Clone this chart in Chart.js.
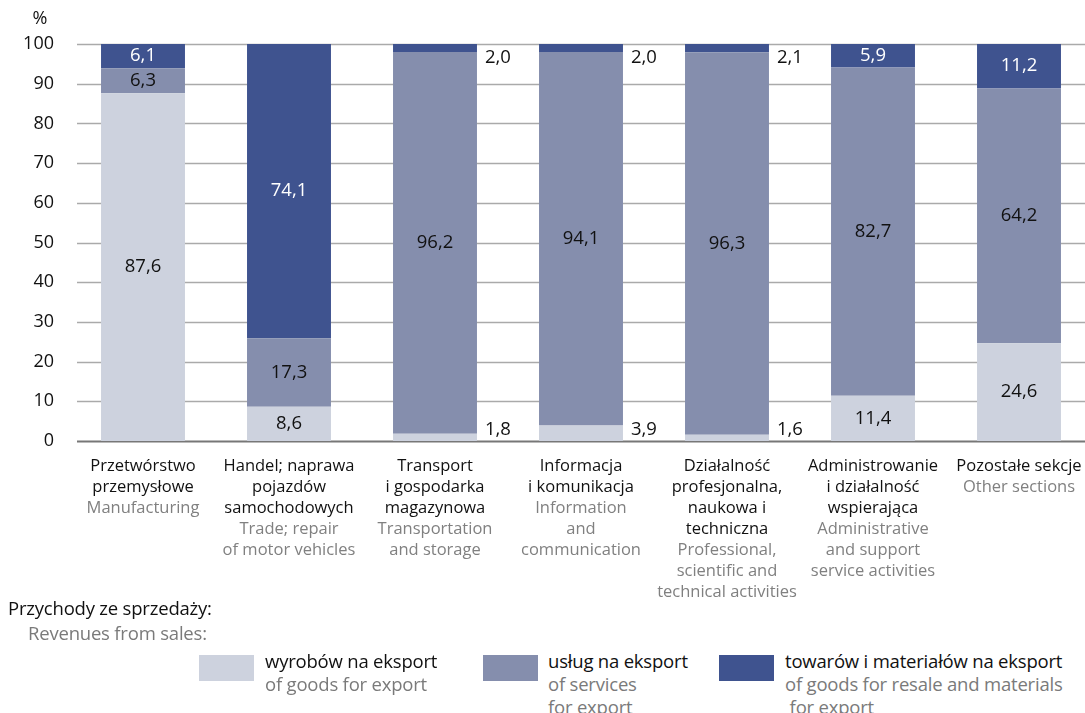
<!DOCTYPE html>
<html><head><meta charset="utf-8">
<script src="https://cdn.jsdelivr.net/npm/chart.js@4/dist/chart.umd.min.js"></script>
<style>
html,body{margin:0;padding:0;background:#fff;width:1085px;height:713px;overflow:hidden;font-family:"Open Sans","Noto Sans",sans-serif;}
#wrap{position:absolute;left:0;top:0;width:1095px;height:600px;}
.lg{position:absolute;font-family:"Open Sans","Noto Sans",sans-serif;font-size:18.5px;line-height:23px;letter-spacing:-0.2px;}
.pl{color:#111;}
.en{color:#7a7a7a;}
.box{position:absolute;width:55px;height:26px;}
</style></head>
<body>
<div id="wrap"><canvas id="c" width="1095" height="600"></canvas></div>
<div class="lg pl" style="left:8px;top:596px;">Przychody ze sprzedaży:</div>
<div class="lg en" style="left:28px;top:621px;">Revenues from sales:</div>
<div class="box" style="left:199px;top:655px;background:#cdd2de"></div>
<div class="lg" style="left:265px;top:649px;"><span class="pl">wyrobów na eksport</span><br><span class="en">of goods for export</span></div>
<div class="box" style="left:483px;top:655px;background:#858ead"></div>
<div class="lg" style="left:548px;top:649px;"><span class="pl">usług na eksport</span><br><span class="en">of services<br>for export</span></div>
<div class="box" style="left:719px;top:655px;background:#3f538f"></div>
<div class="lg" style="left:785px;top:649px;"><span class="pl">towarów i materiałów na eksport</span><br><span class="en">of goods for resale and materials<br>&nbsp;for export</span></div>
<script>
const categoriesPL = [
  ["Przetwórstwo","przemysłowe"],
  ["Handel; naprawa","pojazdów","samochodowych"],
  ["Transport","i gospodarka","magazynowa"],
  ["Informacja","i komunikacja"],
  ["Działalność","profesjonalna,","naukowa i","techniczna"],
  ["Administrowanie","i działalność","wspierająca"],
  ["Pozostałe sekcje"]
];
const categoriesEN = [
  ["Manufacturing"],
  ["Trade; repair","of motor vehicles"],
  ["Transportation","and storage"],
  ["Information","and","communication"],
  ["Professional,","scientific and","technical activities"],
  ["Administrative","and support","service activities"],
  ["Other sections"]
];
const goodsExport    = [87.6, 8.6, 1.8, 3.9, 1.6, 11.4, 24.6];
const servicesExport = [6.3, 17.3, 96.2, 94.1, 96.3, 82.7, 64.2];
const resaleExport   = [6.1, 74.1, 2.0, 2.0, 2.1, 5.9, 11.2];
const yTicks = [0,10,20,30,40,50,60,70,80,90,100];
const seriesNames = ["wyrobów na eksport","usług na eksport","towarów i materiałów na eksport"];
const colors = ["#cdd2de","#858ead","#3f538f"];

const FONT = '"Open Sans","Noto Sans",sans-serif';

const plugin = {
  id:'custom',
  beforeDatasetsDraw(chart){
    const ctx = chart.ctx, y = chart.scales.y;
    ctx.save();
    yTicks.forEach(v=>{
      const py = Math.round(y.getPixelForValue(v))+0.5;
      ctx.strokeStyle = v===0 ? '#777' : '#aaa';
      ctx.lineWidth = v===0 ? 2 : 1.5;
      ctx.beginPath(); ctx.moveTo(77,py); ctx.lineTo(chart.width,py); ctx.stroke();
    });
    ctx.restore();
  },
  afterDatasetsDraw(chart){
    const ctx = chart.ctx;
    ctx.save();
    ctx.font = '18.5px '+FONT;
    ctx.textBaseline = 'middle';
    chart.data.datasets.forEach((ds,di)=>{
      const meta = chart.getDatasetMeta(di);
      meta.data.forEach((bar,i)=>{
        const v = ds.data[i];
        const txt = v.toFixed(1).replace('.',',');
        const top = Math.min(bar.y,bar.base), bot = Math.max(bar.y,bar.base);
        if (v >= 5) {
          ctx.textAlign = 'center';
          ctx.fillStyle = di===2 ? '#ffffff' : '#111';
          ctx.fillText(txt, bar.x, (top+bot)/2);
        } else {
          ctx.textAlign = 'left';
          ctx.fillStyle = '#111';
          const px = bar.x + bar.width/2 + 8;
          const py = di===0 ? bot-11 : top+14;
          ctx.fillText(txt, px, py);
        }
      });
    });
    // category labels
    const x = chart.scales.x;
    ctx.textAlign = 'center';
    ctx.textBaseline = 'middle';
    ctx.font = '16.5px '+FONT;
    categoriesPL.forEach((lines,i)=>{
      const cx = x.getPixelForValue(i);
      let yy = 466;
      ctx.fillStyle = '#111';
      lines.forEach(l=>{ ctx.fillText(l,cx,yy); yy+=21; });
      ctx.fillStyle = '#808080';
      categoriesEN[i].forEach(l=>{ ctx.fillText(l,cx,yy); yy+=21; });
    });
    // unit
    ctx.fillStyle='#111';
    ctx.font = '18px '+FONT;
    ctx.textAlign='center';
    ctx.fillText('%',40,19);
    ctx.restore();
  }
};

new Chart(document.getElementById('c'),{
  type:'bar',
  data:{
    labels: categoriesPL.map(l=>l.join(' ')),
    datasets:[
      {label:seriesNames[0],data:goodsExport,backgroundColor:colors[0]},
      {label:seriesNames[1],data:servicesExport,backgroundColor:colors[1]},
      {label:seriesNames[2],data:resaleExport,backgroundColor:colors[2]}
    ].map(d=>Object.assign(d,{barPercentage:0.575,categoryPercentage:1,borderWidth:0}))
  },
  options:{
    responsive:false,
    animation:false,
    layout:{padding:{top:44,right:3,left:0,bottom:0}},
    plugins:{legend:{display:false},tooltip:{enabled:false}},
    scales:{
      x:{stacked:true,grid:{display:false},border:{display:false},ticks:{display:false},
         afterFit(s){s.height=600-441;}},
      y:{stacked:true,min:0,max:100,
         grid:{display:false},border:{display:false},
         ticks:{stepSize:10,color:'#111',font:{family:FONT,size:18},padding:8},
         afterFit(s){s.width=70;}}
    }
  },
  plugins:[plugin]
});
</script>
</body></html>
